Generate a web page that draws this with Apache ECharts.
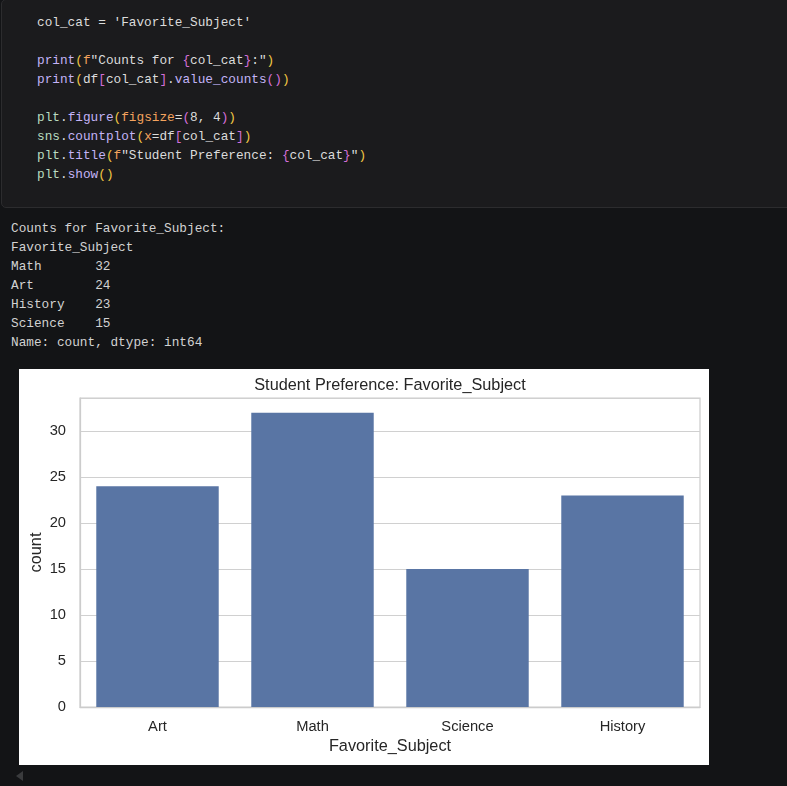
<!DOCTYPE html>
<html>
<head>
<meta charset="utf-8">
<script src="https://cdn.jsdelivr.net/npm/echarts@6/dist/echarts.min.js"></script>
<style>
  html, body { margin:0; padding:0; width:787px; height:786px; overflow:hidden; background:#131416; }
  #cell { position:absolute; left:1px; top:-1px; width:792px; height:209px; background:#1b1b1d; border:1px solid #2c2c2e; border-radius:5px; box-sizing:border-box; }
  pre { margin:0; font-family:"Liberation Mono","DejaVu Sans Mono",monospace; font-size:12.75px; line-height:19px; }
  #code { position:absolute; left:37px; top:13px; color:#dcdcdc; }
  #out { position:absolute; left:11px; top:219px; color:#d2d2d2; }
  .fn { color:#c3b4f7; } .md { color:#b9dcc0; } .kw { color:#f4a35e; }
  .b0 { color:#f2c744; } .b1 { color:#d46fd8; } .b2 { color:#3a9ff5; }
  #chart { position:absolute; left:19px; top:369px; width:690px; height:396px; background:#ffffff; }
  #arrow { position:absolute; left:16px; top:771px; width:0; height:0; border-top:5px solid transparent; border-bottom:5px solid transparent; border-right:7px solid #3a3b3d; }
</style>
</head>
<body>
<div id="cell"></div>
<pre id="code"><span>col_cat = 'Favorite_Subject'</span>

<span class="fn">print</span><span class="b0">(</span><span class="kw">f</span>"Counts for <span class="b1">{</span>col_cat<span class="b1">}</span>:"<span class="b0">)</span>
<span class="fn">print</span><span class="b0">(</span>df<span class="b1">[</span>col_cat<span class="b1">]</span>.<span class="fn">value_counts</span><span class="b1">()</span><span class="b0">)</span>

<span class="md">plt</span>.<span class="fn">figure</span><span class="b0">(</span><span class="kw">figsize</span>=<span class="b1">(</span>8, 4<span class="b1">)</span><span class="b0">)</span>
<span class="md">sns</span>.<span class="fn">countplot</span><span class="b0">(</span><span class="kw">x</span>=df<span class="b1">[</span>col_cat<span class="b1">]</span><span class="b0">)</span>
<span class="md">plt</span>.<span class="fn">title</span><span class="b0">(</span><span class="kw">f</span>"Student Preference: <span class="b1">{</span>col_cat<span class="b1">}</span>"<span class="b0">)</span>
<span class="md">plt</span>.<span class="fn">show</span><span class="b0">()</span></pre>
<pre id="out"></pre>
<div id="chart"></div>
<div id="arrow"></div>
<script>
// ---- data ----
const columnName = 'Favorite_Subject';
const categories = ['Art', 'Math', 'Science', 'History'];
const counts = [24, 32, 15, 23];
const yTickValues = [0, 5, 10, 15, 20, 25, 30];

// ---- printed value_counts output ----
const order = categories.map((c, i) => [c, counts[i]]).sort((a, b) => b[1] - a[1]);
let lines = ['Counts for ' + columnName + ':', columnName];
order.forEach(([c, v]) => lines.push(c.padEnd(11, ' ') + String(v)));
lines.push('Name: count, dtype: int64');
document.getElementById('out').textContent = lines.join('\n');

// ---- chart ----
const chart = echarts.init(document.getElementById('chart'), null, { renderer: 'canvas' });
const txt = '#262626';
const font = '"Liberation Sans", Arial, sans-serif';
chart.setOption({
  animation: false,
  backgroundColor: '#ffffff',
  graphic: [{
    type: 'text', x: 371, y: 17,
    style: { text: 'Student Preference: ' + columnName, textAlign: 'center', textVerticalAlign: 'middle',
             fontFamily: font, fontSize: 16.3, fill: txt }
  }],
  grid: { left: 61, right: 9, top: 29, bottom: 58, outerBoundsMode: 'none', containLabel: false,
          show: true, borderColor: '#cccccc', borderWidth: 1.25, backgroundColor: '#ffffff' },
  xAxis: {
    type: 'category', data: categories,
    name: columnName, nameLocation: 'middle', nameGap: 32, nameMoveOverlap: false,
    nameTextStyle: { fontFamily: font, fontSize: 16.3, color: txt },
    axisLine: { show: true, lineStyle: { color: '#cccccc', width: 1.25 } },
    axisTick: { show: false },
    axisLabel: { margin: 12, fontFamily: font, fontSize: 14.7, color: txt },
    splitLine: { show: false }
  },
  yAxis: {
    type: 'value', min: 0, max: 33.6, interval: 5,
    name: 'count', nameLocation: 'middle', nameGap: 35, nameMoveOverlap: false,
    nameTextStyle: { fontFamily: font, fontSize: 16.3, color: txt },
    axisLine: { show: true, lineStyle: { color: '#cccccc', width: 1.25 } },
    axisTick: { show: false },
    axisLabel: { margin: 14, fontFamily: font, fontSize: 14.7, color: txt, showMaxLabel: false,
                 formatter: v => yTickValues.includes(v) ? String(v) : '' },
    splitLine: { show: true, lineStyle: { color: '#d0d0d0', width: 1 } }
  },
  series: [{
    type: 'bar', data: counts, barCategoryGap: '21%',
    itemStyle: { color: '#5975a4' }
  }]
});
</script>
</body>
</html>
